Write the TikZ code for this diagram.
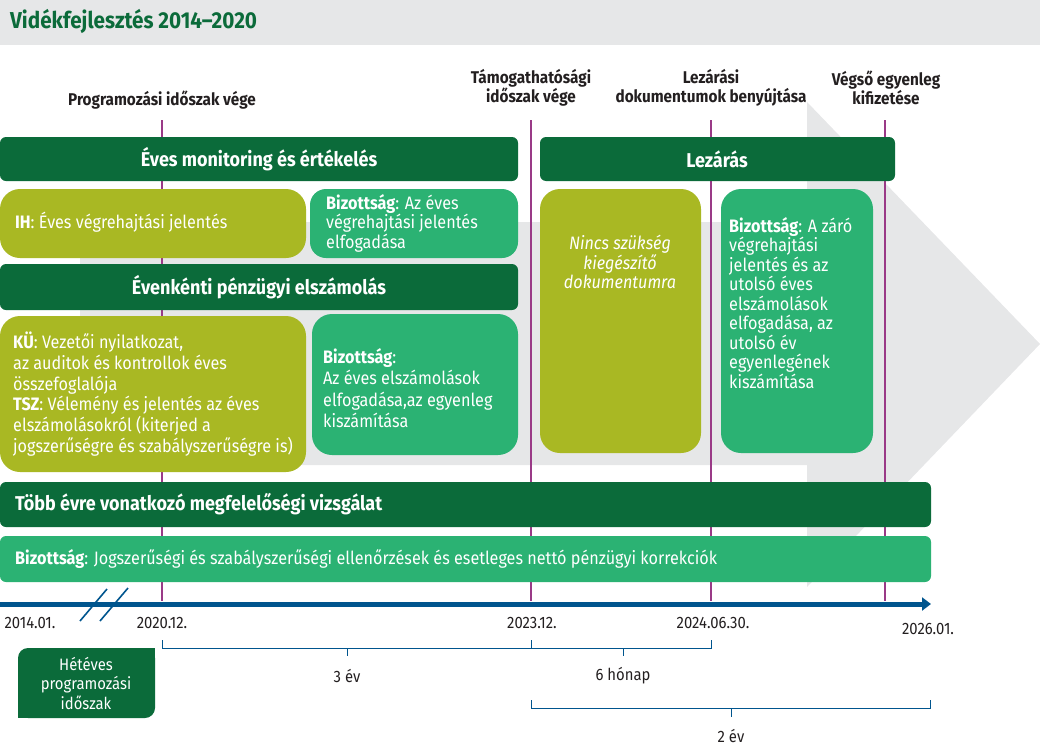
\documentclass[tikz,border=0pt]{standalone}
\usepackage{fontspec}
\setmainfont[FakeStretch=0.9]{Fira Sans}
\usepackage{xcolor}
\usetikzlibrary{arrows.meta}

\definecolor{panelgray}{HTML}{E6E7E8}
\definecolor{darkgreen}{HTML}{0B6B3A}
\definecolor{olivegreen}{HTML}{A9B823}
\definecolor{lightgreen}{HTML}{2BB273}
\definecolor{markpurple}{HTML}{9A3A87}
\definecolor{axisblue}{HTML}{00558E}
\definecolor{labelgray}{HTML}{231F20}

\tikzset{
  bodytext/.style={font=\fontsize{18}{19.5}\selectfont, text=white, align=left, inner sep=0pt},
  bartext/.style={font=\bfseries\fontsize{20}{22}\selectfont, text=white, inner sep=0pt},
  toplabel/.style={font=\bfseries\fontsize{17}{18.5}\selectfont, text=labelgray, align=center, inner sep=0pt},
  datelabel/.style={font=\fontsize{16.5}{18}\selectfont, text=labelgray, inner sep=0pt},
  milestone/.style={markpurple, line width=2pt},
  bracket/.style={axisblue, line width=0.8pt},
}

\begin{document}
\begin{tikzpicture}[x=1pt, y=-1pt]
    \useasboundingbox (0,0) rectangle (1040,747);

    % Title bar
    \fill[panelgray] (0,0) rectangle (1040,45);
    \node[anchor=west, font=\bfseries\fontsize{23}{26}\selectfont, text=darkgreen, inner sep=0pt] (title) at (10,21) {Vidékfejlesztés 2014--2020};

    % Background arrow
    \fill[panelgray] (80,222) -- (807,222) -- (807,102) -- (1040,344) -- (807,587) -- (807,465) -- (80,465) -- cycle;

    % Milestones
    \node[toplabel] (progend) at (162,100) {Programozási időszak vége};
    \node[toplabel] (eligend) at (531,88) {Támogathatósági\\időszak vége};
    \node[toplabel] (closedocs) at (711,88) {Lezárási\\dokumentumok benyújtása};
    \node[toplabel] (finalpay) at (886,88) {Végső egyenleg\\kifizetése};
    \coordinate (m1top) at (162,120); \coordinate (m1bot) at (162,601);
    \coordinate (m2top) at (531,120); \coordinate (m2bot) at (531,601);
    \coordinate (m3top) at (711,120); \coordinate (m3bot) at (711,601);
    \coordinate (m4top) at (885,120); \coordinate (m4bot) at (885,601);
    \draw[milestone] (m1top) -- (m1bot);
    \draw[milestone] (m2top) -- (m2bot);
    \draw[milestone] (m3top) -- (m3bot);
    \draw[milestone] (m4top) -- (m4bot);

    % Annual monitoring
    \fill[darkgreen, rounded corners=6pt] (0,137) rectangle (518,181);
    \node[bartext] (monitor) at (259,159) {Éves monitoring és értékelés};
    \fill[olivegreen, rounded corners=20pt] (0,189) rectangle (306,258);
    \node[bodytext, anchor=west] (ihreport) at (15,222) {\textbf{IH}: Éves végrehajtási jelentés};
    \fill[lightgreen, rounded corners=16pt] (310,189) rectangle (518,258);
    \node[bodytext, anchor=west] (comreport) at (326,223) {\textbf{Bizottság}: Az éves\\végrehajtási jelentés\\elfogadása};

    % Annual financial clearance
    \fill[darkgreen, rounded corners=6pt] (0,264) rectangle (518,310);
    \node[bartext] (clearance) at (259,287) {Évenkénti pénzügyi elszámolás};
    \fill[olivegreen, rounded corners=20pt] (0,316) rectangle (306,472);
    \node[bodytext, anchor=west, font=\fontsize{18}{20.8}\selectfont] (kuts) at (13,394) {\textbf{KÜ}: Vezetői nyilatkozat,\\az auditok és kontrollok éves\\összefoglalója\\\textbf{TSZ}: Vélemény és jelentés az éves\\elszámolásokról (kiterjed a\\jogszerűségre és szabályszerűségre is)};
    \fill[lightgreen, rounded corners=20pt] (312,314) rectangle (518,455);
    \node[bodytext, anchor=west, font=\fontsize{18}{21.5}\selectfont] (comaccounts) at (323,388) {\textbf{Bizottság}:\\Az éves elszámolások\\elfogadása,az egyenleg\\kiszámítása};

    % Closure
    \fill[darkgreen, rounded corners=6pt] (540,137) rectangle (895,181);
    \node[bartext] (closure) at (717,159) {Lezárás};
    \fill[olivegreen, rounded corners=20pt] (540,189) rectangle (701,453);
    \node[bodytext, align=center, font=\itshape\fontsize{18}{19.5}\selectfont] (nodocs) at (620,262) {Nincs szükség\\kiegészítő\\dokumentumra};
    \fill[lightgreen, rounded corners=20pt] (721,189) rectangle (873,453);
    \node[bodytext, anchor=west] (comfinal) at (729,303) {\textbf{Bizottság}: A záró\\végrehajtási\\jelentés és az\\utolsó éves\\elszámolások\\elfogadása, az\\utolsó év\\egyenlegének\\kiszámítása};

    % Multi-annual compliance
    \fill[darkgreen, rounded corners=6pt] (0,482) rectangle (931,527);
    \node[bartext, anchor=west] (compliance) at (15,504) {Több évre vonatkozó megfelelőségi vizsgálat};
    \fill[lightgreen, rounded corners=6pt] (0,536) rectangle (931,582);
    \node[bodytext, anchor=west] (corrections) at (15,559) {\textbf{Bizottság}: Jogszerűségi és szabályszerűségi ellenőrzések és esetleges nettó pénzügyi korrekciók};

    % Time axis
    \coordinate (axisstart) at (0,604);
    \coordinate (axisend) at (931,604);
    \draw[axisblue, line width=5pt, -{Triangle[length=9pt, width=13pt]}] (axisstart) -- (axisend);
    \coordinate (cut1a) at (80,621); \coordinate (cut1b) at (107,589);
    \coordinate (cut2a) at (100,621); \coordinate (cut2b) at (128,588);
    \draw[axisblue, line width=1.6pt] (cut1a) -- (cut1b);
    \draw[axisblue, line width=1.6pt] (cut2a) -- (cut2b);
    \node[datelabel] (d2014) at (30,623) {2014.01.};
    \node[datelabel] (d2020) at (162,623) {2020.12.};
    \node[datelabel] (d2023) at (532,623) {2023.12.};
    \node[datelabel] (d2024) at (713,623) {2024.06.30.};
    \node[datelabel] (d2026) at (928,629) {2026.01.};

    % Durations
    \coordinate (b1l) at (162,640); \coordinate (b1r) at (531,640); \coordinate (b1m) at (347,648);
    \draw[bracket] (b1l) -- ++(0,8) -- ++(369,0) -- (b1r);
    \draw[bracket] (b1m) -- ++(0,8);
    \node[datelabel] (three) at (347,676) {3 év};
    \coordinate (b2l) at (531,640); \coordinate (b2r) at (711,640); \coordinate (b2m) at (623,648);
    \draw[bracket] (b2l) -- ++(0,8) -- ++(180,0) -- (b2r);
    \draw[bracket] (b2m) -- ++(0,8);
    \node[datelabel] (six) at (623,676) {6 hónap};
    \coordinate (b3l) at (531,700); \coordinate (b3r) at (930,700); \coordinate (b3m) at (731,708);
    \draw[bracket] (b3l) -- ++(0,8) -- ++(399,0) -- (b3r);
    \draw[bracket] (b3m) -- ++(0,9);
    \node[datelabel] (two) at (731,736) {2 év};

    % Seven-year period
    \fill[darkgreen, rounded corners=10pt] (18,648) rectangle (155,718);
    \fill[darkgreen] (135,648) rectangle (155,668);
    \fill[darkgreen] (18,698) rectangle (38,718);
    \node[bodytext, align=center, font=\fontsize{16.5}{19.5}\selectfont] (sevenyear) at (86,683) {Hétéves\\programozási\\időszak};

\end{tikzpicture}
\end{document}
